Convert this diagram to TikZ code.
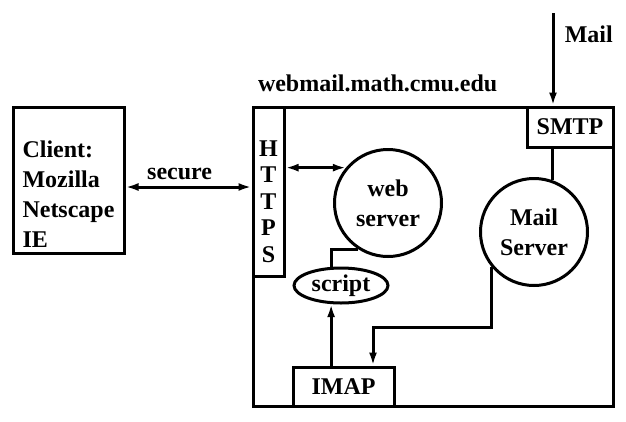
\documentclass[tikz,border=0pt]{standalone}
\usepackage{fontspec}
\setmainfont{Liberation Serif}
\usetikzlibrary{arrows.meta,shapes.geometric}

\begin{document}
\begin{tikzpicture}[x=1pt, y=-1pt, line width=3pt,
	every node/.style={font=\bfseries\fontsize{24}{27.5}\selectfont},
	box/.style={draw, rectangle, inner sep=0pt},
	srv/.style={draw, circle, minimum size=107pt, inner sep=0pt, align=center,
		font=\bfseries\fontsize{24}{30}\selectfont},
	>={Latex[length=13pt,width=8pt]}]
	\useasboundingbox (0,0) rectangle (626,421);
	\node [box, minimum width=360pt, minimum height=299pt] (BX) at (433,256.5) {};
	\node [anchor=base west, inner sep=0pt] (WM) at ([xshift=5pt, yshift=14pt] BX.north west) {webmail.math.cmu.edu};
	\node [box, minimum width=111pt, minimum height=146pt,
		label={[yshift=-14pt, align=left, font=\bfseries\fontsize{24}{30}\selectfont]center:Client:\\Mozilla\\Netscape\\IE}] (CL) at (68.5,180) {};
	\node [box, minimum width=31pt, minimum height=169pt,
		label={[yshift=-10pt, align=center, font=\bfseries\fontsize{24}{26.5}\selectfont]center:H\\T\\T\\P\\S}] (HT) at (268.5,191.5) {};
	\node [box, minimum width=86pt, minimum height=40pt] (SM) at (570,127) {SMTP};
	\node [box, minimum width=101pt, minimum height=39pt] (IM) at (343.5,386.5) {IMAP};
	\node [srv] (WS) at (388,203) {web\\server};
	\node [srv] (MS) at (534,232) {Mail\\Server};
	\node [draw, ellipse, minimum width=94pt, minimum height=35pt, inner sep=0pt] (SC) at (341,285.5) {script};
	\coordinate (MT) at (553,13);
	\coordinate (BEND) at (373,327);
	\draw [<->] (CL.east |- 0,187) -- node [above, pos=0.43, yshift=2.5pt] {secure} (HT.west |- 0,187);
	\draw [<->] (HT.east |- WS.140) -- (WS.140);
	\draw [->] (MT) -- node [right, pos=0.23, xshift=7pt] {Mail} (MT |- SM.north);
	\draw (SM.south -| MS.70) -- (MS.70);
	\draw (WS.237) -| (SC.118);
	\draw [->] (IM.north -| SC.242) -- (SC.242);
	\draw [->] (MS.220) |- (BEND) -- (BEND |- IM.north);
\end{tikzpicture}
\end{document}
